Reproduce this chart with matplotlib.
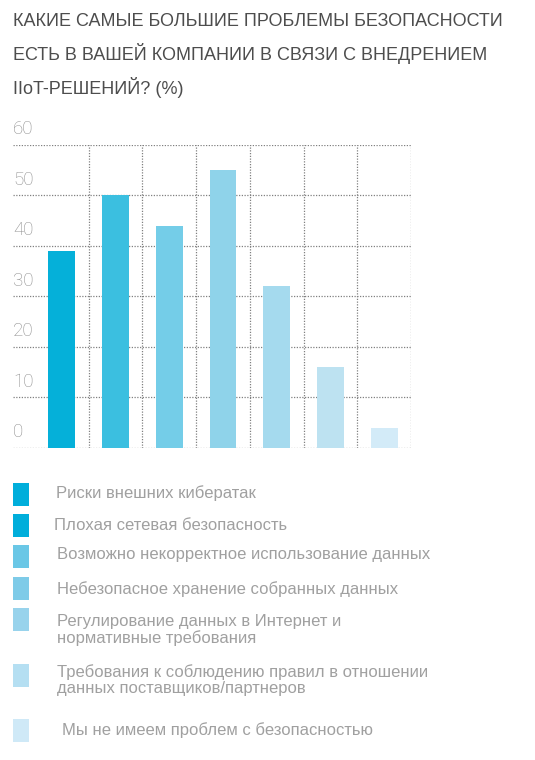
import matplotlib
matplotlib.use("Agg")
import matplotlib.pyplot as plt
from matplotlib.patches import Rectangle

# data
values = [39, 50, 44, 55, 32, 16, 4]
bar_colors = ['#05b0d9', '#3bbfe0', '#74cde8', '#8fd3ea', '#a5daee', '#bde2f1', '#d3ebf8']
legend_colors = ['#00aedb', '#00aedb', '#6ac7e6', '#7ecbe8', '#98d3ec', '#b5dff2', '#cfe9f7']
legend_labels = ["Риски внешних кибератак",
                 "Плохая сетевая безопасность",
                 "Возможно некорректное использование данных",
                 "Небезопасное хранение собранных данных",
                 "Регулирование данных в Интернет и\nнормативные требования",
                 "Требования к соблюдению правил в отношении\nданных поставщиков/партнеров",
                 "Мы не имеем проблем с безопасностью"]
yticks = [0, 10, 20, 30, 40, 50, 60]
title_lines = ["КАКИЕ САМЫЕ БОЛЬШИЕ ПРОБЛЕМЫ БЕЗОПАСНОСТИ",
               "ЕСТЬ В ВАШЕЙ КОМПАНИИ В СВЯЗИ С ВНЕДРЕНИЕМ",
               "IIoT-РЕШЕНИЙ? (%)"]

W, H = 535, 760
fig = plt.figure(figsize=(W/100, H/100), dpi=100)

# bar chart area
ax = fig.add_axes([13/W, 1-447.7/H, 398/W, 302.7/H])
x = list(range(len(values)))
ax.set_xlim(-0.91, 6.5)
ax.set_ylim(0, 60)
grid_kw = dict(color='#808080', lw=0.9, linestyle=(0, (1, 1.2)), zorder=1)
for t in yticks:
    ax.axhline(t, **grid_kw)
for i in x:
    ax.axvline(i + 0.5, **grid_kw)
ax.bar(x, values, width=0.5, color=bar_colors, zorder=2)
for s in ax.spines.values():
    s.set_visible(False)
ax.set_xticks([])
ax.set_yticks([])
for t in yticks:
    ax.text(0, t + 1.3, str(t), transform=ax.get_yaxis_transform(), ha='left', va='bottom',
            fontsize=13.5, color='#8e8e8e', family='Roboto', fontweight='light')

# title, one line at a time
for k, line in enumerate(title_lines):
    fig.text(13/W, 1-(21 + 33*k)/H, line, ha='left', va='center', fontsize=13,
             color='#4d4d4d', family='Liberation Sans')

# legend drawn in pixel coordinates
lax = fig.add_axes([0, 0, 1, 1])
lax.set_xlim(0, W)
lax.set_ylim(H, 0)
lax.axis('off')
box_y = [494.5, 525.5, 556.5, 588.5, 619.5, 675.5, 730.5]
txt_y = [493, 525, 555, 589, 630, 680, 730]
txt_x = [56, 54, 57, 57, 57, 57, 62]
for c, lab, by, ty, tx in zip(legend_colors, legend_labels, box_y, txt_y, txt_x):
    lax.add_patch(Rectangle((13, by - 11.5), 16, 23, color=c, lw=0))
    lax.text(tx, ty, lab, ha='left', va='center', fontsize=12, color='#a0a0a0',
             family='Liberation Sans', linespacing=1.05)

fig.savefig("out.png", dpi=100)
